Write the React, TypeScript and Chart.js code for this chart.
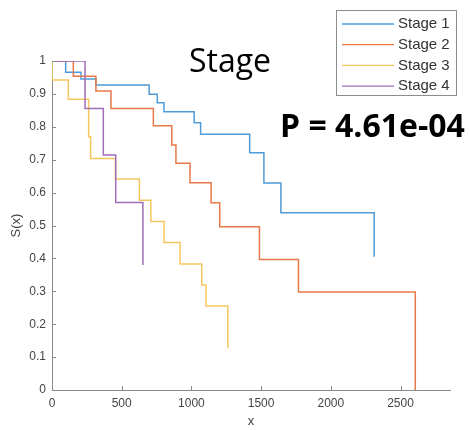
import React, { useEffect, useRef } from 'react';
import { Chart, registerables } from 'chart.js';

Chart.register(...registerables);

// ---- data ----
const SERIES_LABELS = ['Stage 1', 'Stage 2', 'Stage 3', 'Stage 4'];
const SERIES_COLORS = ['#4F9BD8', '#E8784A', '#F3C75E', '#A06DB6'];

const STAGE1_TIME = [0, 98, 208, 314, 697, 755, 803, 1020, 1066, 1418, 1520, 1642, 2311];
const STAGE1_SURV = [1, 0.966, 0.945, 0.927, 0.899, 0.873, 0.846, 0.812, 0.777, 0.721, 0.629, 0.539, 0.405];

const STAGE2_TIME = [0, 153, 315, 423, 727, 859, 889, 990, 1141, 1203, 1488, 1768, 2606];
const STAGE2_SURV = [1, 0.954, 0.909, 0.856, 0.803, 0.745, 0.689, 0.63, 0.569, 0.496, 0.397, 0.298, 0];

const STAGE3_TIME = [0, 0, 117, 263, 277, 455, 627, 709, 804, 919, 1074, 1105, 1261];
const STAGE3_SURV = [1, 0.942, 0.884, 0.77, 0.704, 0.641, 0.577, 0.512, 0.448, 0.383, 0.319, 0.255, 0.127];

const STAGE4_TIME = [0, 237, 368, 457, 652];
const STAGE4_SURV = [1, 0.856, 0.714, 0.57, 0.38];

const X_TICKS = [0, 500, 1000, 1500, 2000, 2500];
const Y_TICKS = [0, 0.1, 0.2, 0.3, 0.4, 0.5, 0.6, 0.7, 0.8, 0.9, 1];
const Y_TICK_LABELS = ['0', '0.1', '0.2', '0.3', '0.4', '0.5', '0.6', '0.7', '0.8', '0.9', '1'];
const X_MIN = 0;
const X_MAX = 2855;

const TITLE_TEXT = 'Stage';
const P_TEXT = 'P = 4.61e-04';
const X_TITLE = 'x';
const Y_TITLE = 'S(x)';

const AXIS_COLOR = '#8a8a8a';
const TEXT_COLOR = '#444444';

const toPoints = (t: number[], s: number[]) => t.map((v, i) => ({ x: v, y: s[i] }));

const SERIES = [
  toPoints(STAGE1_TIME, STAGE1_SURV),
  toPoints(STAGE2_TIME, STAGE2_SURV),
  toPoints(STAGE3_TIME, STAGE3_SURV),
  toPoints(STAGE4_TIME, STAGE4_SURV),
];

const overlayPlugin = {
  id: 'overlay',
  afterDraw(chart: any) {
    const ctx = chart.ctx as CanvasRenderingContext2D;
    const xs = chart.scales.x;
    const ys = chart.scales.y;
    ctx.save();
    // inward tick marks
    ctx.strokeStyle = AXIS_COLOR;
    ctx.lineWidth = 1;
    ctx.beginPath();
    X_TICKS.forEach((v) => {
      const px = Math.round(xs.getPixelForValue(v)) + 0.5;
      ctx.moveTo(px, ys.bottom);
      ctx.lineTo(px, ys.bottom - 4);
    });
    Y_TICKS.forEach((v) => {
      const py = Math.round(ys.getPixelForValue(v)) + 0.5;
      ctx.moveTo(xs.left, py);
      ctx.lineTo(xs.left + 4, py);
    });
    ctx.stroke();

    // big texts
    ctx.fillStyle = '#000';
    ctx.textAlign = 'left';
    ctx.textBaseline = 'alphabetic';
    ctx.font = '32px "Open Sans"';
    ctx.fillText(TITLE_TEXT, 189, 72);
    ctx.font = '700 32px "Open Sans"';
    ctx.fillText(P_TEXT, 280, 137);

    // legend box
    const bx = 336.5, by = 10.5, bw = 120, bh = 85;
    ctx.fillStyle = '#ffffff';
    ctx.fillRect(bx, by, bw, bh);
    ctx.strokeStyle = '#8c8c8c';
    ctx.lineWidth = 1;
    ctx.strokeRect(bx, by, bw, bh);
    ctx.font = '15px "Liberation Sans"';
    ctx.textBaseline = 'middle';
    chart.data.datasets.forEach((ds: any, i: number) => {
      const ry = 24 + i * 20.7;
      ctx.strokeStyle = ds.borderColor;
      ctx.lineWidth = 1.3;
      ctx.beginPath();
      ctx.moveTo(342, ry);
      ctx.lineTo(394, ry);
      ctx.stroke();
      ctx.fillStyle = '#333';
      ctx.fillText(ds.label, 398, ry);
    });
    ctx.restore();
  },
};

export default function App() {
  const ref = useRef<HTMLCanvasElement | null>(null);
  useEffect(() => {
    if (!ref.current) return;
    const chart = new Chart(ref.current, {
      type: 'line',
      data: {
        datasets: SERIES.map((pts, i) => ({
          label: SERIES_LABELS[i],
          data: pts,
          borderColor: SERIES_COLORS[i],
          backgroundColor: SERIES_COLORS[i],
          borderWidth: 1.5,
          pointRadius: 0,
          fill: false,
          stepped: 'before' as const,
          order: SERIES.length - i,
        })),
      },
      options: {
        animation: false,
        responsive: false,
        parsing: true,
        layout: { padding: { top: 61, right: 20, left: 0, bottom: 0 } },
        plugins: {
          legend: { display: false },
          tooltip: { enabled: false },
          title: { display: false },
        },
        scales: {
          x: {
            type: 'linear',
            min: X_MIN,
            max: X_MAX,
            afterBuildTicks: (s: any) => {
              s.ticks = X_TICKS.map((v) => ({ value: v }));
            },
            afterFit: (s: any) => {
              s.height = 40;
            },
            grid: { display: false, drawTicks: false },
            border: { display: true, color: AXIS_COLOR, width: 1 },
            ticks: {
              padding: 6,
              color: TEXT_COLOR,
              font: { family: 'Liberation Sans', size: 12 },
              maxRotation: 0,
              callback: (v: any) => String(v),
            },
            title: {
              display: true,
              text: X_TITLE,
              color: TEXT_COLOR,
              font: { family: 'Liberation Sans', size: 13 },
              padding: { top: 0, bottom: 1 },
            },
          },
          y: {
            type: 'linear',
            min: 0,
            max: 1,
            afterBuildTicks: (s: any) => {
              s.ticks = Y_TICKS.map((v) => ({ value: v }));
            },
            afterFit: (s: any) => {
              s.width = 52;
            },
            grid: { display: false, drawTicks: false },
            border: { display: true, color: AXIS_COLOR, width: 1 },
            ticks: {
              padding: 6,
              color: TEXT_COLOR,
              font: { family: 'Liberation Sans', size: 12 },
              callback: (v: any) => {
                const idx = Y_TICKS.findIndex((t) => Math.abs(t - v) < 1e-9);
                return idx >= 0 ? Y_TICK_LABELS[idx] : '';
              },
            },
            title: {
              display: true,
              text: Y_TITLE,
              color: TEXT_COLOR,
              font: { family: 'Liberation Sans', size: 13 },
              padding: { top: 9, bottom: 0 },
            },
          },
        },
      },
      plugins: [overlayPlugin],
    });
    return () => chart.destroy();
  }, []);

  return (
    <div style={{ position: 'fixed', left: 0, top: 0, width: 470, height: 430, background: '#fff' }}>
      <canvas ref={ref} width={470} height={430} style={{ display: 'block' }} />
    </div>
  );
}
